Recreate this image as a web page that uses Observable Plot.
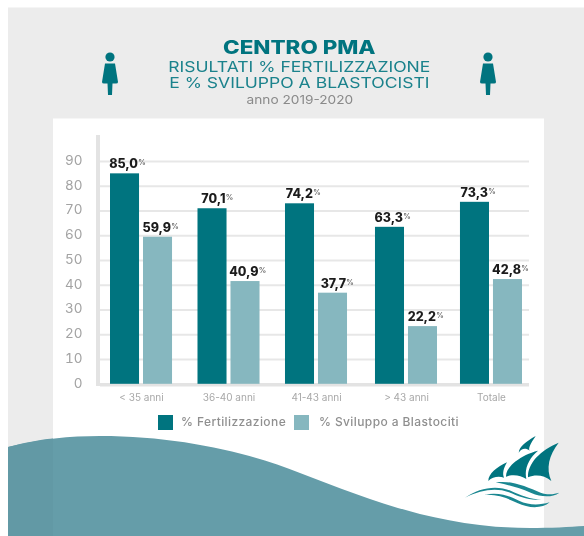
<!DOCTYPE html>
<html><head><meta charset="utf-8">
<script src="https://cdn.jsdelivr.net/npm/d3@7"></script>
<script src="https://cdn.jsdelivr.net/npm/@observablehq/plot@0.6"></script>
<style>
html,body{margin:0;padding:0;background:#fff;}
#page{position:relative;width:584px;height:536px;overflow:hidden;font-family:Inter,sans-serif;filter:blur(0.35px);}
#page>*{position:absolute;}
.t{left:8px;width:586px;text-align:center;white-space:nowrap;line-height:1;}
.leg{height:15px;width:15px;top:415px;}
.legt{top:415px;font-size:12px;line-height:14px;color:#8f8f8f;white-space:nowrap;letter-spacing:.4px;font-weight:500;}
</style></head><body>
<div id="page"></div>
<script>
const groups = ["< 35 anni", "36-40 anni", "41-43 anni", "> 43 anni", "Totale"];
const seriesNames = ["% Fertilizzazione", "% Sviluppo a Blastociti"];
const fertBars = [85.0, 70.9, 72.9, 63.4, 73.5];
const blastBars = [59.4, 41.5, 36.8, 23.3, 42.3];
const fertLabels = ["85,0", "70,1", "74,2", "63,3", "73,3"];
const blastLabels = ["59,9", "40,9", "37,7", "22,2", "42,8"];
const yTicks = [0, 10, 20, 30, 40, 50, 60, 70, 80, 90];
const colors = ["#00747f", "#86b7bf"];

const fert = groups.map((g, i) => ({group: g, value: fertBars[i], label: fertLabels[i]}));
const blast = groups.map((g, i) => ({group: g, value: blastBars[i], label: blastLabels[i]}));
const OFF = 16.5;

const page = document.getElementById("page");
page.insertAdjacentHTML("beforeend", `
<svg style="left:0;top:0" width="584" height="536" viewBox="0 0 584 536">
  <rect x="8" y="7.5" width="576" height="529" fill="#ececec"/>
  <rect x="53" y="118.5" width="491" height="418" fill="#fff"/>
  <path d="M8 447C40 439 70 436 100 436C180 436 250 453 300 473C370 500 440 528 530 528C550 528 570 527 584 526L584 536L8 536Z" fill="#659da9"/>
  <path d="M8 447C25 443 38 440 53 438.6L53 536L8 536Z" fill="#6299a5"/>
  ${[110, 488].map(x => `<g fill="#00747f" transform="translate(${x},0)">
    <circle cx="0" cy="57" r="4.6"/>
    <path d="M-5 63.5H5L8 82Q8 83.5 6 83.5H2.5L2 95H-2L-2.5 83.5H-6Q-8 83.5 -8 82Z"/></g>`).join("")}
</svg>
<svg style="left:384px;top:400px" width="200" height="136" viewBox="0 0 600 408" fill="#00747f">
  <path d="M404 158C406 140 425 125 455 108C440 130 432 145 437 152C425 142 412 145 404 158Z"/>
  <path d="M432 232C430 190 470 150 524 128C495 165 485 205 502 243C480 225 455 222 432 232Z"/>
  <path d="M366 230C365 200 410 165 462 152C435 175 420 205 427 237C410 225 385 222 366 230Z"/>
  <path d="M313 243C312 222 340 200 369 187C358 205 355 222 360 233C345 228 325 230 313 243Z"/>
  <path d="M335 247C385 240 430 262 470 278C490 285 510 283 526 278C505 293 472 292 442 279C405 263 370 254 335 247Z" fill="#1a8791"/>
  <path d="M243 293C285 264 335 254 380 272C410 286 440 298 472 298C440 304 405 290 375 277C335 262 290 270 243 293Z" fill="#1a8791"/>
  <path d="M300 285C340 275 375 287 405 302C435 316 465 316 497 307C475 326 435 326 400 309C365 292 335 282 300 285Z" fill="#1a8791"/>
</svg>
<div class="t" style="top:38px;font-size:18.5px;font-weight:800;color:#00747f;transform:scaleX(1.21);transform-origin:301px 0;">CENTRO PMA</div>
<div class="t" style="top:59.5px;font-size:14.5px;font-weight:400;color:#1b828c;transform:scaleX(1.21);transform-origin:301px 0;">RISULTATI % FERTILIZZAZIONE</div>
<div class="t" style="top:76px;font-size:14.5px;font-weight:400;color:#1b828c;transform:scaleX(1.21);transform-origin:301px 0;">E % SVILUPPO A BLASTOCISTI</div>
<div class="t" style="top:93.5px;font-size:12px;color:#8a8a8a;transform:scaleX(1.14);transform-origin:301px 0;">anno 2019-2020</div>
`);

// The reference's fourth group sits slightly right of the regular band grid.
const shiftedGroup = "> 43 anni";
const shiftPx = 2.5;
const parts = [[d => d.group !== shiftedGroup, 0], [d => d.group === shiftedGroup, shiftPx]];
const valueStyle = {x: "group", y: "value", text: "label", dy: -5.5, textAnchor: "end", lineAnchor: "bottom", fontSize: 12.5, fontWeight: 800, fill: "#1c1c1c"};
const pctStyle = {x: "group", y: "value", text: () => "%", dy: -8.5, textAnchor: "start", lineAnchor: "bottom", fontSize: 7.5, fontWeight: 600, fill: "#666"};
const axisXStyle = {tickSize: 0, tickPadding: 9.5, fontSize: 10, color: "#a8a8a8", label: null};

const chart = Plot.plot({
  width: 584, height: 536,
  marginLeft: 100, marginRight: 55, marginTop: 136.2, marginBottom: 152.2,
  style: {background: "transparent", fontFamily: "Inter, sans-serif"},
  x: {domain: groups, range: [110, 522], paddingInner: 0.291, paddingOuter: 0, round: false, label: null},
  y: {domain: [0, 100], label: null},
  marks: [
    Plot.ruleY(yTicks.filter(d => d > 0), {stroke: "#e7e7e7", strokeWidth: 2}),
    Plot.ruleY([0], {stroke: "#e3e3e3", strokeWidth: 3.5, dy: 0.5}),
    Plot.axisY({ticks: yTicks, tickSize: 0, tickPadding: 18, dy: -1, fontSize: 13.5, color: "#a3a3a3", label: null}),
    Plot.axisX({...axisXStyle, ticks: groups.filter(g => g !== shiftedGroup)}),
    Plot.axisX({...axisXStyle, ticks: [shiftedGroup], dx: shiftPx}),
    ...parts.flatMap(([keep, dx]) => [
      Plot.barY(fert.filter(keep), {x: "group", y: "value", fill: colors[0], insetRight: 33, dx}),
      Plot.barY(blast.filter(keep), {x: "group", y: "value", fill: colors[1], insetLeft: 33, dx}),
      Plot.text(fert.filter(keep), {...valueStyle, dx: dx - OFF + 13}),
      Plot.text(fert.filter(keep), {...pctStyle, dx: dx - OFF + 13.3}),
      Plot.text(blast.filter(keep), {...valueStyle, dx: dx + OFF + 13}),
      Plot.text(blast.filter(keep), {...pctStyle, dx: dx + OFF + 13.3})
    ])
  ]
});
chart.style.left = "0"; chart.style.top = "0";
page.appendChild(chart);

page.insertAdjacentHTML("beforeend", `
<svg style="left:0;top:0;pointer-events:none" width="584" height="536"><rect x="96" y="135" width="4" height="251" fill="#e3e3e3"/></svg>
<div class="leg" style="left:157.5px;background:${colors[0]}"></div>
<div class="legt" style="left:181px">${seriesNames[0]}</div>
<div class="leg" style="left:293.5px;background:${colors[1]}"></div>
<div class="legt" style="left:319px">${seriesNames[1]}</div>
`);
</script>
</body></html>
